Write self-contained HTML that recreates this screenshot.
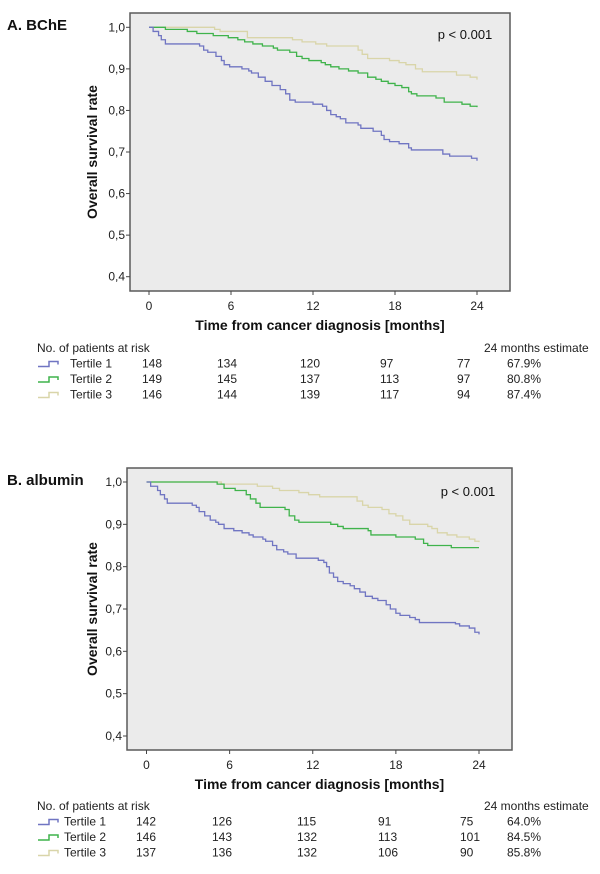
<!DOCTYPE html>
<html><head><meta charset="utf-8"><style>
body{margin:0;background:#fff;}
svg{display:block;font-family:"Liberation Sans",sans-serif;}
</style></head><body>
<svg id="fig" width="600" height="874" viewBox="0 0 600 874"></svg>
<script>
const xTicks=[0,6,12,18,24];
const yTicks=[1.0,0.9,0.8,0.7,0.6,0.5,0.4];
const yTickLabels=["1,0","0,9","0,8","0,7","0,6","0,5","0,4"];
const seriesNames=["Tertile 1","Tertile 2","Tertile 3"];
const seriesColors=["#7075c2","#3fb34b","#d9d5a9"];
// Panel A (BChE) step curves: [month, survival]
const aT1=[[0,1],[0.3,0.99],[0.7,0.98],[0.9,0.97],[1.2,0.96],[3.7,0.955],[4.0,0.945],[4.3,0.94],[4.9,0.93],[5.3,0.92],[5.5,0.91],[5.9,0.905],[6.8,0.9],[7.3,0.895],[7.5,0.89],[8.0,0.88],[8.5,0.87],[9.0,0.86],[9.6,0.85],[10.0,0.84],[10.3,0.825],[10.7,0.82],[12.0,0.815],[12.7,0.81],[13.0,0.8],[13.3,0.79],[13.7,0.785],[14.0,0.78],[14.4,0.77],[15.3,0.765],[15.5,0.757],[16.4,0.75],[17.0,0.74],[17.2,0.73],[17.6,0.725],[18.3,0.72],[19.0,0.71],[19.2,0.705],[21.5,0.695],[22.0,0.69],[23.6,0.685],[24,0.679]];
const aT2=[[0,1],[1.2,0.995],[2.8,0.99],[3.5,0.985],[4.7,0.98],[5.8,0.975],[6.5,0.97],[7.0,0.965],[7.6,0.96],[8.3,0.955],[9.1,0.95],[9.4,0.945],[10.3,0.94],[10.8,0.93],[11.2,0.925],[11.7,0.92],[12.6,0.915],[12.9,0.91],[13.3,0.905],[13.9,0.9],[14.6,0.895],[15.3,0.89],[16.0,0.88],[16.6,0.875],[17.0,0.87],[17.5,0.865],[18.0,0.86],[18.5,0.855],[19.0,0.845],[19.2,0.84],[19.6,0.835],[21.0,0.83],[21.6,0.82],[22.9,0.815],[23.5,0.81],[24,0.808]];
const aT3=[[0,1],[4.8,0.995],[5.2,0.99],[7.2,0.975],[10.5,0.97],[11.2,0.965],[12.2,0.96],[13.0,0.955],[15.3,0.945],[15.6,0.935],[16.0,0.925],[17.6,0.92],[18.3,0.915],[18.8,0.91],[19.5,0.9],[20.0,0.893],[22.5,0.885],[23.5,0.88],[24,0.874]];
// Panel B (albumin)
const bT1=[[0,1],[0.3,0.99],[0.8,0.98],[1.0,0.97],[1.3,0.96],[1.5,0.95],[3.3,0.945],[3.6,0.94],[3.8,0.93],[4.2,0.92],[4.6,0.91],[5.0,0.905],[5.2,0.9],[5.6,0.89],[6.3,0.885],[6.9,0.88],[7.4,0.875],[7.7,0.87],[8.4,0.865],[8.6,0.86],[9.1,0.85],[9.4,0.84],[9.9,0.835],[10.2,0.83],[10.8,0.82],[12.4,0.815],[12.8,0.81],[13.0,0.8],[13.2,0.785],[13.5,0.775],[13.8,0.765],[14.2,0.76],[14.7,0.755],[15.0,0.748],[15.4,0.74],[15.8,0.73],[16.3,0.725],[16.7,0.72],[17.3,0.71],[17.6,0.7],[18.0,0.69],[18.3,0.685],[19.0,0.68],[19.4,0.675],[19.7,0.668],[22.3,0.665],[22.6,0.66],[23.3,0.655],[23.7,0.645],[24,0.64]];
const bT2=[[0,1],[5.1,0.995],[5.6,0.985],[6.4,0.98],[7.2,0.97],[7.5,0.96],[7.9,0.95],[8.2,0.94],[10.0,0.935],[10.3,0.92],[10.7,0.91],[11.0,0.905],[13.3,0.9],[13.8,0.895],[14.2,0.89],[16.0,0.885],[16.2,0.875],[18.0,0.87],[19.4,0.865],[20.0,0.855],[20.3,0.85],[22.0,0.845],[24,0.845]];
const bT3=[[0,1],[5.4,0.995],[8.0,0.99],[9.1,0.985],[9.6,0.98],[11.0,0.975],[11.7,0.97],[12.5,0.965],[15.2,0.955],[15.6,0.945],[16.0,0.94],[17.0,0.935],[17.5,0.925],[18.0,0.92],[18.5,0.91],[19.0,0.9],[20.3,0.895],[20.6,0.89],[21.0,0.88],[21.7,0.875],[22.4,0.87],[23.3,0.865],[23.7,0.86],[24,0.858]];
const aRisk=[[148,134,120,97,77],[149,145,137,113,97],[146,144,139,117,94]];
const aEst=["67.9%","80.8%","87.4%"];
const bRisk=[[142,126,115,91,75],[146,143,132,113,101],[137,136,132,106,90]];
const bEst=["64.0%","84.5%","85.8%"];

const NS="http://www.w3.org/2000/svg";
const svg=document.getElementById('fig');
function mk(tag,attrs,parent,text){const e=document.createElementNS(NS,tag);for(const k in attrs)e.setAttribute(k,attrs[k]);if(text!==undefined)e.textContent=text;(parent||svg).appendChild(e);return e;}

function panel(cfg){
  const g=mk('g',{});
  
  
  const sx=v=>cfg.x0+(cfg.x24-cfg.x0)*v/24;
  const sy=v=>cfg.y1+(cfg.y04-cfg.y1)*(1-v)/0.6;
  const bg=mk('rect',{x:cfg.bx,y:cfg.by,width:cfg.bw,height:cfg.bh,fill:'#ebebeb',stroke:'#5a5a5a','stroke-width':1.5},g);
  
  
  const t=mk('text',{x:7,y:cfg.titleY,'font-size':15,'font-weight':'bold',fill:'#111'},g,cfg.title);
  
  
  yTicks.forEach((v,i)=>{
    mk('line',{x1:cfg.bx-4,x2:cfg.bx,y1:sy(v),y2:sy(v),stroke:'#444'},g);
    const l=mk('text',{x:cfg.bx-5,y:sy(v)+4,'font-size':12,'text-anchor':'end',fill:'#222'},g,yTickLabels[i]);
    
    
  });
  xTicks.forEach(v=>{
    mk('line',{x1:sx(v),x2:sx(v),y1:cfg.by+cfg.bh,y2:cfg.by+cfg.bh+4,stroke:'#444'},g);
    const l=mk('text',{x:sx(v),y:cfg.by+cfg.bh+19,'font-size':12,'text-anchor':'middle',fill:'#222'},g,String(v));
    
    
  });
  const xt=mk('text',{x:(cfg.bx+cfg.bx+cfg.bw)/2,y:cfg.by+cfg.bh+39,'font-size':14,'font-weight':'bold','text-anchor':'middle',fill:'#111'},g,'Time from cancer diagnosis [months]');
  
  
  const yc=cfg.by+cfg.bh/2;
  const yt=mk('text',{x:0,y:0,transform:`translate(97,${yc}) rotate(-90)`,'font-size':14,'font-weight':'bold','text-anchor':'middle',fill:'#111'},g,'Overall survival rate');
  
  
  const p=mk('text',{x:cfg.px,y:cfg.py,'font-size':13,'text-anchor':'middle',fill:'#111'},g,'p < 0.001');
  
  
  cfg.series.slice().reverse().forEach((s,ri)=>{
    const i=cfg.series.length-1-ri;
    let d=`M${sx(s[0][0])},${sy(s[0][1])}`;
    for(let k=1;k<s.length;k++){d+=` H${sx(s[k][0])} V${sy(s[k][1])}`;}
    const path=mk('path',{d:d,fill:'none',stroke:seriesColors[i],'stroke-width':1.3},g);
    
    
  });
  const h=mk('text',{x:37,y:cfg.tY,'font-size':12,fill:'#222'},g,'No. of patients at risk');
  
  
  const eh=mk('text',{x:484,y:cfg.tY,'font-size':12,fill:'#222'},g,'24 months estimate');
  
  
  cfg.risk.forEach((row,i)=>{
    const ry=cfg.tY+15.5*(i+1);
    const ic=mk('path',{d:`M38,${ry-1} H49 V${ry-6} H58 V${ry-3}`,fill:'none',stroke:seriesColors[i],'stroke-width':1.5},g);
    
    
    const lb=mk('text',{x:cfg.lx,y:ry,'font-size':12,fill:'#222'},g,seriesNames[i]);
    
    
    row.forEach((v,j)=>{
      const n=mk('text',{x:cfg.cols[j],y:ry,'font-size':12,fill:'#222'},g,String(v));
      
      
    });
    const e=mk('text',{x:507,y:ry,'font-size':12,fill:'#222'},g,cfg.est[i]);
    
    
  });
}
panel({id:'bche',title:'A. BChE',titleY:30,bx:130,by:13,bw:380,bh:278,x0:149,x24:477,y1:27.3,y04:276.7,px:465,py:39,series:[aT1,aT2,aT3],tY:352,lx:70,cols:[142,217,300,380,457],risk:aRisk,est:aEst});
panel({id:'albumin',title:'B. albumin',titleY:485,bx:127,by:468,bw:385,bh:282,x0:146.5,x24:479,y1:482,y04:736,px:468,py:496,series:[bT1,bT2,bT3],tY:810,lx:64,cols:[136,212,297,378,460],risk:bRisk,est:bEst});
</script>
</body></html>
